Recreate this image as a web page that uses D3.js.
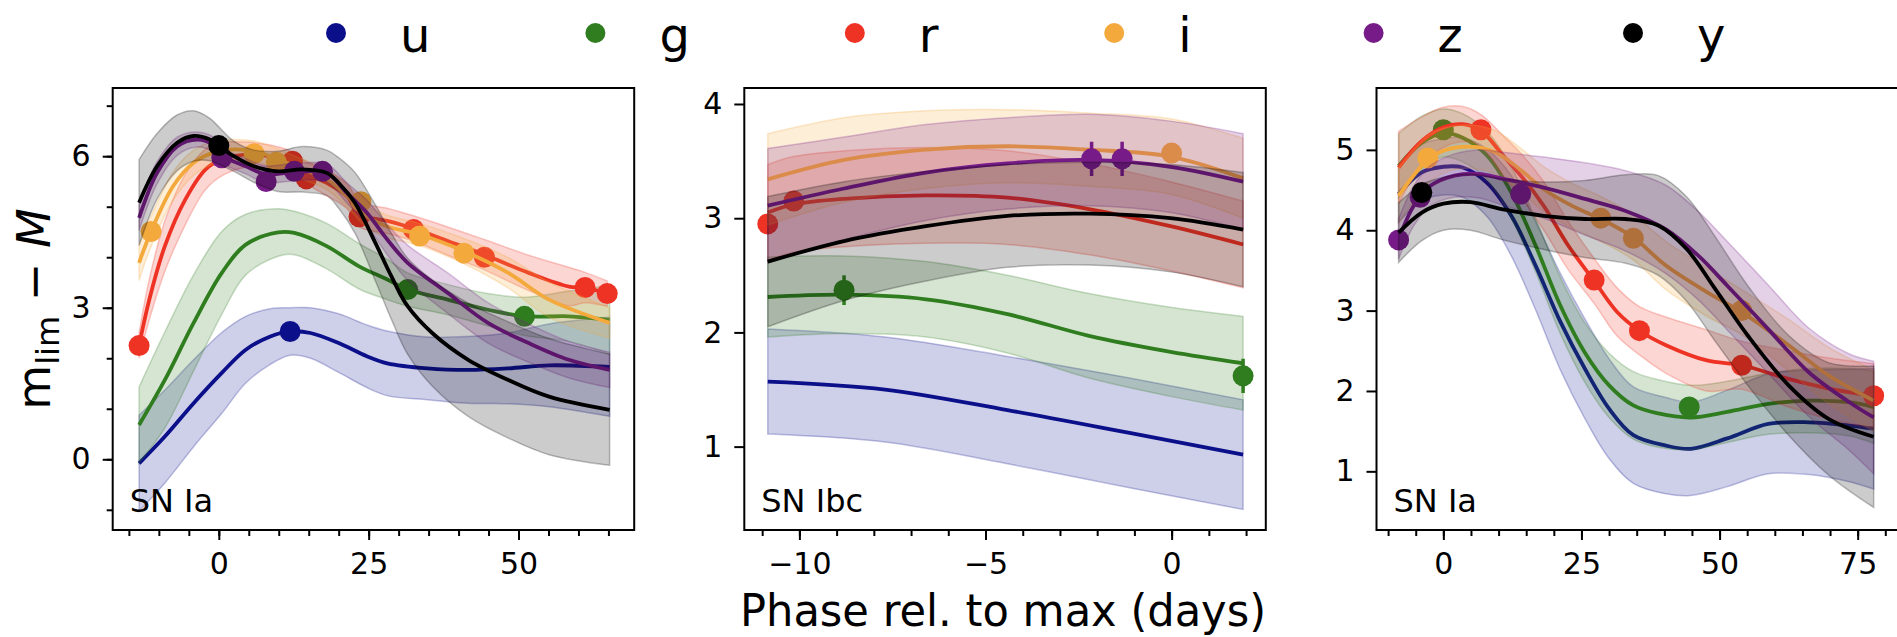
<!DOCTYPE html>
<html>
<head>
<meta charset="utf-8">
<script src="https://cdn.jsdelivr.net/npm/d3@7"></script>
<style>
  body { margin: 0; background: #fff; }
  text { font-family: "DejaVu Sans", sans-serif; fill: #000; }
</style>
</head>
<body>
<svg id="fig" width="1897" height="637"></svg>
<script>
// --- data (phase in days, m_lim - M, 1-sigma) ---
const bands = ["u", "g", "r", "i", "z", "y"];
const bandColors = ["#0b0f8a", "#2f7d1f", "#ee3325", "#f4a93c", "#761b87", "#000000"];

// panel 1 : SN Ia
const ia1_u = [[-13.3,-0.08,0.95],[-9,0.45,0.92],[-4.2,1.11,0.86],[0.5,1.71,0.8],[4.5,2.17,0.66],[8.6,2.43,0.55],[11.9,2.53,0.47],[15.3,2.5,0.5],[20,2.3,0.58],[24.7,2.04,0.62],[28.1,1.9,0.64],[34.8,1.8,0.62],[41.6,1.77,0.66],[48.3,1.8,0.7],[55.1,1.86,0.82],[65.2,1.83,0.98]];
const ia1_g = [[-13.3,0.68,0.75],[-9,1.57,0.95],[-4.2,2.7,0.95],[0.5,3.69,0.82],[4.5,4.25,0.6],[9.9,4.49,0.47],[12.6,4.48,0.43],[18,4.22,0.45],[23.4,3.82,0.45],[28.1,3.56,0.4],[31.5,3.36,0.33],[38.2,3.16,0.3],[44.9,2.96,0.32],[51,2.83,0.38],[58.4,2.83,0.5],[65.2,2.76,0.68]];
const ia1_r = [[-13.3,2.25,0.25],[-11.6,3.16,0.4],[-9,4.22,0.5],[-5.6,5.14,0.5],[-2.2,5.74,0.4],[0.5,5.94,0.33],[4.5,6.03,0.25],[8.6,6.0,0.22],[12,5.9,0.2],[14.6,5.67,0.22],[18,5.47,0.25],[21.4,5.21,0.25],[23.4,4.85,0.25],[28.1,4.72,0.25],[32.2,4.58,0.25],[38.2,4.32,0.28],[44.3,4.05,0.3],[51.7,3.69,0.35],[58.4,3.42,0.38],[61.1,3.4,0.3],[64.8,3.28,0.25]];
const ia1_i = [[-13.3,3.89,0.35],[-11.3,4.51,0.3],[-7.6,5.41,0.28],[-4.2,5.87,0.25],[-0.9,6.07,0.22],[1.8,6.13,0.2],[5.9,6.1,0.2],[9.9,5.94,0.2],[14,5.74,0.2],[18,5.54,0.2],[22,5.14,0.22],[24.7,4.81,0.22],[28.1,4.61,0.22],[33.5,4.45,0.22],[40.9,4.12,0.25],[48.3,3.69,0.3],[55.1,3.16,0.35],[65.2,2.7,0.3]];
const ia1_z = [[-13.3,4.78,0.25],[-10.3,5.67,0.22],[-6.9,6.2,0.18],[-3.6,6.33,0.15],[-0.9,6.23,0.15],[0.8,6.0,0.15],[4.5,5.8,0.15],[7.9,5.64,0.17],[11.3,5.67,0.17],[14.6,5.7,0.17],[18,5.67,0.18],[21.4,5.27,0.2],[24.7,4.88,0.25],[28.1,4.35,0.3],[31.5,3.89,0.35],[38.2,3.29,0.4],[44.9,2.7,0.4],[51.7,2.3,0.38],[58.4,1.97,0.36],[65.2,1.77,0.35]];
const ia1_y = [[-13.3,5.08,0.85],[-10.3,5.8,0.65],[-6.9,6.27,0.55],[-4.2,6.4,0.5],[-1.5,6.33,0.42],[0,6.21,0.37],[2.5,6.0,0.3],[5.9,5.8,0.32],[9.9,5.7,0.4],[13.9,5.74,0.45],[18,5.67,0.45],[20,5.47,0.5],[22.7,5.08,0.6],[26.1,4.29,0.75],[28.8,3.62,0.85],[31.5,3.03,0.95],[35.6,2.5,1.05],[41.6,1.97,1.12],[48.3,1.57,1.15],[55.1,1.24,1.15],[65.2,0.98,1.1]];
const ia1Points = [["u",11.9,2.53],["g",31.5,3.36],["g",51,2.83],
  ["r",-13.3,2.25],["r",12.3,5.9],["r",14.6,5.55],["r",23.4,4.8],["r",32.5,4.55],["r",44.3,4.0],["r",61.1,3.4],["r",64.8,3.28],
  ["i",-11.3,4.51],["i",5.9,6.05],["i",9.6,5.88],["i",23.7,5.1],["i",33.5,4.42],["i",40.9,4.08],
  ["z",0.5,5.97],["z",7.9,5.5],["z",12.6,5.7],["z",17.3,5.7],["y",0,6.21]];

// panel 2 : SN Ibc
const ibc_u = [[-10.85,1.57,0.46],[-7.7,1.5,0.46],[-4.41,1.32,0.47],[-1.13,1.12,0.48],[1.92,0.93,0.48]];
const ibc_g = [[-10.85,2.31,0.35],[-8.8,2.33,0.34],[-6.6,2.29,0.33],[-4.41,2.16,0.34],[-2.22,1.97,0.37],[-0.03,1.83,0.39],[1.92,1.73,0.41]];
const ibc_r = [[-10.85,3.05,0.42],[-10.16,3.12,0.42],[-8.8,3.17,0.42],[-6.6,3.2,0.42],[-4.41,3.18,0.41],[-2.22,3.08,0.4],[-0.03,2.93,0.39],[1.92,2.77,0.38]];
const ibc_i = [[-10.85,3.34,0.4],[-8.8,3.51,0.37],[-6.6,3.6,0.34],[-4.41,3.63,0.32],[-2.22,3.6,0.32],[-0.03,3.54,0.33],[1.92,3.35,0.35]];
const ibc_z = [[-10.85,3.11,0.5],[-8.8,3.26,0.45],[-6.6,3.4,0.42],[-4.41,3.48,0.4],[-2.22,3.51,0.4],[-0.03,3.45,0.4],[1.92,3.32,0.42]];
const ibc_y = [[-10.85,2.62,0.57],[-8.8,2.8,0.52],[-6.6,2.93,0.48],[-4.41,3.02,0.45],[-2.22,3.04,0.45],[-0.03,3.0,0.47],[1.92,2.9,0.5]];
const ibcPoints = [["r",-10.85,2.95],["r",-10.15,3.15],["g",-8.8,2.37,0.13],["z",-2.15,3.52,0.15],["z",-1.33,3.52,0.15],["i",0,3.57,0.06],["g",1.92,1.62,0.15]];

// panel 3 : SN Ia
const ia3_u = [[-8.1,4.45,0.35],[-3.9,4.72,0.35],[0,4.79,0.35],[3.5,4.78,0.37],[7.9,4.59,0.42],[12.3,4.18,0.5],[16.7,3.56,0.55],[21.2,2.86,0.6],[25.6,2.28,0.62],[30,1.78,0.62],[34.4,1.45,0.6],[40.3,1.32,0.6],[44.8,1.28,0.58],[51.4,1.41,0.6],[58.8,1.59,0.62],[66.2,1.61,0.65],[73.5,1.57,0.7],[77.9,1.53,0.75]];
const ia3_g = [[-8.1,4.8,0.4],[-3.9,5.09,0.33],[0,5.21,0.3],[3.5,5.15,0.3],[7.9,4.93,0.3],[12.3,4.47,0.32],[16.7,3.81,0.33],[21.2,3.06,0.35],[25.6,2.48,0.37],[30,2.07,0.4],[34.4,1.82,0.42],[38.9,1.72,0.42],[44.8,1.67,0.4],[51.4,1.74,0.38],[58.8,1.84,0.38],[66.2,1.88,0.4],[73.5,1.86,0.42],[77.9,1.8,0.45]];
const ia3_r = [[-8.1,4.78,0.45],[-3.9,5.11,0.3],[0,5.28,0.25],[3.5,5.32,0.22],[6.8,5.24,0.2],[10.8,4.93,0.25],[14.5,4.64,0.28],[18.2,4.3,0.3],[22.6,3.81,0.3],[27.3,3.37,0.28],[31.5,2.98,0.3],[35.5,2.75,0.3],[40.3,2.57,0.35],[47.7,2.38,0.38],[54,2.32,0.3],[62.5,2.15,0.35],[69.8,2.03,0.38],[77.9,1.94,0.4]];
const ia3_i = [[-8.1,4.43,0.35],[-2.8,4.88,0.3],[0,4.99,0.28],[4.9,5.04,0.27],[9.4,4.97,0.27],[13.8,4.76,0.27],[18.2,4.51,0.28],[23.4,4.3,0.28],[28.5,4.14,0.28],[34.4,3.91,0.28],[40.3,3.56,0.3],[47.7,3.23,0.3],[54,2.98,0.28],[62.5,2.57,0.32],[69.8,2.19,0.35],[77.9,1.88,0.38]];
const ia3_z = [[-8.1,3.89,0.25],[-5.4,4.3,0.25],[-2.4,4.55,0.25],[2,4.68,0.27],[6.4,4.7,0.3],[10.8,4.64,0.33],[18.2,4.53,0.38],[25.6,4.39,0.45],[33,4.24,0.5],[40.3,4.01,0.55],[46.2,3.68,0.55],[51.4,3.31,0.55],[58.8,2.77,0.55],[66.2,2.23,0.55],[73.5,1.86,0.6],[77.9,1.67,0.7]];
const ia3_y = [[-8.1,3.97,0.37],[-3.9,4.22,0.35],[0,4.33,0.33],[4.9,4.35,0.35],[10.8,4.26,0.38],[18.2,4.18,0.42],[25.6,4.14,0.48],[33,4.14,0.55],[38.9,4.06,0.62],[44,3.77,0.65],[49.2,3.27,0.65],[55.1,2.69,0.62],[62.5,2.07,0.62],[69.8,1.65,0.7],[77.9,1.43,0.88]];
const ia3Points = [["g",0,5.25],["g",44.5,1.8],
  ["r",6.8,5.25],["r",27.3,3.38],["r",35.5,2.75],["r",54,2.32],["r",77.9,1.94],
  ["i",-2.8,4.9],["i",28.5,4.15],["i",34.4,3.9],["i",54,3.0],
  ["z",-8.1,3.88],["z",-4.2,4.41],["z",14,4.45],["y",-3.9,4.47]];

// --- layout ---
const svg = d3.select("#fig");
const TOP = 88, PH = 442, PW = 521.5;
const minus = d => (d < 0 ? "\u2212" + Math.abs(d) : String(d));

const panels = [
  { id: 1, left: 112.7, label: "SN Ia", xDom: [-17.7, 69.3], yDom: [-1.4, 7.35],
    xMajor: [0, 25, 50], xMinor: d3.range(-15, 70, 5), yMajor: [0, 3, 6], yMinor: d3.range(-1, 8, 1),
    curves: [ia1_u, ia1_g, ia1_r, ia1_i, ia1_z, ia1_y], points: ia1Points },
  { id: 2, left: 744.3, label: "SN Ibc", xDom: [-11.48, 2.53], yDom: [0.27, 4.14],
    xMajor: [-10, -5, 0], xMinor: d3.range(-11, 3, 1), yMajor: [1, 2, 3, 4], yMinor: [],
    curves: [ibc_u, ibc_g, ibc_r, ibc_i, ibc_z, ibc_y], points: ibcPoints },
  { id: 3, left: 1376.5, label: "SN Ia", xDom: [-12.1, 82.3], yDom: [0.27, 5.77],
    xMajor: [0, 25, 50, 75], xMinor: d3.range(-10, 85, 5), yMajor: [1, 2, 3, 4, 5], yMinor: [],
    curves: [ia3_u, ia3_g, ia3_r, ia3_i, ia3_z, ia3_y], points: ia3Points }
];

function drawPanel(p) {
  const g = svg.append("g").attr("transform", `translate(${p.left},${TOP})`);
  const x = d3.scaleLinear().domain(p.xDom).range([0, PW]);
  const y = d3.scaleLinear().domain(p.yDom).range([PH, 0]);

  g.append("clipPath").attr("id", "clip" + p.id)
    .append("rect").attr("width", PW).attr("height", PH);
  const plot = g.append("g").attr("clip-path", `url(#clip${p.id})`);

  const curve = d3.curveCatmullRom.alpha(0.5);
  const area = d3.area().curve(curve).x(d => x(d[0]))
    .y0(d => y(d[1] - d[2])).y1(d => y(d[1] + d[2]));
  const line = d3.line().curve(curve).x(d => x(d[0])).y(d => y(d[1]));

  bands.forEach((b, i) => {
    const col = bandColors[i];
    const c = p.curves[i];
    plot.append("path").attr("d", area(c))
      .attr("fill", col).attr("fill-opacity", 0.2)
      .attr("stroke", col).attr("stroke-opacity", 0.25).attr("stroke-width", 1.5);
    plot.append("path").attr("d", line(c))
      .attr("fill", "none").attr("stroke", col).attr("stroke-width", 3.8);

    const pts = p.points.filter(d => d[0] === b);
    plot.selectAll(null).data(pts.filter(d => d[3])).join("line")
      .attr("x1", d => x(d[1])).attr("x2", d => x(d[1]))
      .attr("y1", d => y(d[2] - d[3])).attr("y2", d => y(d[2] + d[3]))
      .attr("stroke", col).attr("stroke-width", 3.5);
    plot.selectAll(null).data(pts).join("circle")
      .attr("cx", d => x(d[1])).attr("cy", d => y(d[2])).attr("r", 10.5)
      .attr("fill", col);
  });

  // minor ticks
  const xm = d3.axisBottom(x).tickValues(p.xMinor).tickSize(6).tickFormat("");
  const ym = d3.axisLeft(y).tickValues(p.yMinor).tickSize(6).tickFormat("");
  // major ticks
  const xa = d3.axisBottom(x).tickValues(p.xMajor).tickSize(10).tickPadding(13).tickFormat(minus);
  const ya = d3.axisLeft(y).tickValues(p.yMajor).tickSize(10).tickPadding(12).tickFormat(minus);

  [[xm, true], [xa, true], [ym, false], [ya, false]].forEach(([ax, bottom]) => {
    const a = g.append("g").attr("transform", bottom ? `translate(0,${PH})` : null).call(ax);
    a.select(".domain").remove();
    a.selectAll("line").attr("stroke", "#000").attr("stroke-width", 2);
    a.selectAll("text").attr("font-size", 30).attr("font-family", "DejaVu Sans, sans-serif");
  });

  g.append("rect").attr("width", PW).attr("height", PH)
    .attr("fill", "none").attr("stroke", "#000").attr("stroke-width", 2);

  g.append("text").attr("x", 17).attr("y", PH - 18)
    .attr("font-size", 32).text(p.label);
}

panels.forEach(drawPanel);

// --- legend ---
const lx = d3.scalePoint().domain(bands).range([336, 1633]);
const leg = svg.append("g");
leg.selectAll("circle").data(bands).join("circle")
  .attr("cx", d => lx(d)).attr("cy", 33).attr("r", 10)
  .attr("fill", (d, i) => bandColors[i]);
leg.selectAll("text").data(bands).join("text")
  .attr("x", d => lx(d) + 64).attr("y", 52)
  .attr("font-size", 48).text(d => d);

// --- axis titles ---
svg.append("text")
  .attr("transform", "translate(1003,626) scale(0.96,1)")
  .attr("text-anchor", "middle").attr("font-size", 45)
  .text("Phase rel. to max (days)");

const yl = svg.append("text")
  .attr("transform", "translate(50,309) rotate(-90)")
  .attr("text-anchor", "middle").attr("font-size", 46);
yl.append("tspan").text("m");
yl.append("tspan").attr("font-size", 32).attr("dy", 9).text("lim");
yl.append("tspan").attr("dy", -9).text(" \u2212 ");
yl.append("tspan").attr("font-style", "italic").text("M");
</script>
</body>
</html>
